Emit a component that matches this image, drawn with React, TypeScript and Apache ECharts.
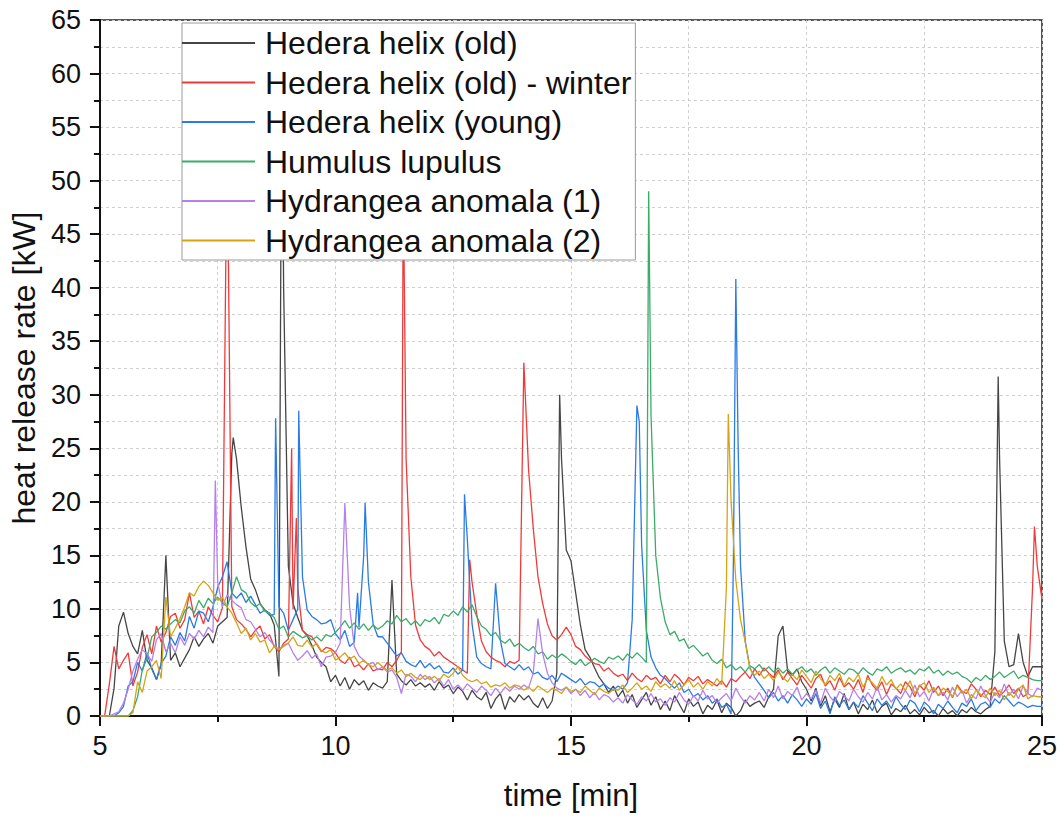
import React, { useEffect, useRef } from "react";
import * as echarts from "echarts";

// time grid: 5.0 .. 25.0 min, step 0.1 min (one row = one minute)
const T_START = 5;
const T_STEP = 0.1;

const seriesNames = [
  "Hedera helix (old)",
  "Hedera helix (old) - winter",
  "Hedera helix (young)",
  "Humulus lupulus",
  "Hydrangea anomala (1)",
  "Hydrangea anomala (2)",
];
const seriesColors = ["#454545", "#f03a3a", "#2b7be4", "#3bab6a", "#b680ea", "#d4a416"];

const xTicks = [5, 10, 15, 20, 25];
const yTicks = [0, 5, 10, 15, 20, 25, 30, 35, 40, 45, 50, 55, 60, 65];

// Hedera helix (old)
const hhOld = [
  0, 0, 0, 2.6, 8.4, 9.7, 7.7, 6.5, 5.8, 8.0,
  5.2, 4.5, 3.4, 4.8, 15, 5.2, 5.9, 4.6, 5.4, 6.2,
  7.4, 6.5, 7.2, 7.7, 6.8, 8.4, 8.8, 9.2, 24.5, 24,
  19.5, 15.8, 12.8, 11.8, 10.5, 9.9, 9.6, 8.5, 3.7, 40,
  14, 10.5, 9.2, 8, 7.5, 6.6, 5.5, 5, 4.6, 3.2,
  3.8, 2.8, 3.6, 2.5, 3.4, 2.9, 3.3, 2.4, 3.1, 2.8,
  2.6, 3.2, 12.7, 3.9, 3.3, 2.9, 3.4, 2.8, 3.1, 2.7,
  3, 2.4, 3.2, 2.6, 2.9, 2.1, 2.7, 2.3, 1.5, 2.4,
  1.8, 1.5, 2.2, 0.7, 1.6, 2.1, 0.6, 1.8, 1.3, 2,
  1.5, 1.9, 1.2, 0.8, 1.7, 0.7, 1.4, 4, 24, 15.5,
  14.5, 11.5, 8.5, 6.2, 5.5, 4.5, 3.6, 3, 2.2, 2.8,
  1.8, 2.4, 1.2, 2, 0.8, 1.5, 2.2, 1, 1.8, 0.6,
  1.4, 0.5, 1.9, 1.1, 0.3, 1.6, 0.9, 1.3, 0.2, 1,
  0.6, 1.5, 0.3, 1.2, 0.8, 0, 0.5, 1.5, 0.9, 1.2,
  1.4, 0.8, 1.8, 2.5, 7.5, 8.4, 4.2, 3.8, 4.4, 3.2,
  2.5, 1.4, 2.6, 0.9, 1.9, 0.4, 1.6, 0.8, 2.1, 0.6,
  1.3, 0.2, 1.1, 0.6, 1.5, 0.3, 0.9, 1.2, 0.1, 0.7,
  0.4, 1, 0.2, 0.6, 0.1, 0.8, 0.3, 0.5, 0, 0.7,
  0.2, 0.5, 0, 0.6, 0.3, 0.8, 0.4, 0.2, 0.6, 0.9,
  6, 24, 7, 4.6, 4.8, 7.7, 5, 3.7, 4.6, 4.6,
  4.6,
];
const hhOldPeaks = [[7.83, 26], [8.86, 62], [14.76, 30], [24.07, 31.7]];

// Hedera helix (old) - winter
const hhWinter = [
  0, 0, 3, 6.5, 4.4, 5.2, 5.9, 2.8, 4.1, 6.4,
  7.6, 5.8, 8.4, 6.9, 7.8, 9.3, 9.6, 8.2, 9, 11.5,
  9.2, 9.8, 8.6, 10.2, 9.4, 8.8, 10.1, 55, 10.2, 9,
  8.6, 8.1, 7.4, 8, 8.4, 7.2, 7.6, 6.5, 6, 6.8,
  7.2, 10, 12, 8, 7.6, 7.4, 6.7, 6, 6.4, 6.3,
  5.9, 5.2, 4.9, 5.5, 4.6, 4.8, 4.3, 4.9, 4.2, 4.4,
  4.3, 5, 4.6, 5.2, 6, 24, 13, 8.5, 7.1, 6.5,
  6.2, 5.6, 6, 5.5, 5.2, 4.9, 4.6, 4.3, 4, 12.5,
  9.5, 7, 6, 5.5, 5.2, 5, 4.6, 5.1, 4.9, 5.2,
  33, 23, 17.5, 13, 10.5, 8.6, 7.5, 7.1, 7.6, 8.3,
  7.6, 6.5, 6.2, 5.6, 5.2, 4.9, 4.8, 4.2, 4.5, 4,
  3.7, 3.9, 3.3, 4, 3.5, 3.2, 3.8, 3.4, 3.6, 3,
  3.8, 3.2, 3.9, 3.5, 2.9, 3.6, 3.3, 3.7, 3, 3.4,
  3.1, 2.8, 3.3, 2.7, 3.5, 3.2, 3.7, 4.1, 3.5, 4.4,
  3.8, 4.5, 4, 3.6, 4.3, 3.4, 4.1, 3.5, 2.9, 3.8,
  3.2, 2.6, 3.5, 3.9, 2.8, 3.3, 2.4, 3.6, 2.7, 3.1,
  2.5, 3.4, 2.2, 3.8, 2.9, 2.4, 3.2, 2, 3, 2.6,
  2.1, 3.2, 2.7, 1.8, 2.9, 2.4, 3.3, 2.2, 2.8, 1.9,
  2.6, 1.7, 2.9, 2.3, 2.1, 3, 2.5, 1.8, 2.4, 2,
  2.7, 1.9, 2.3, 2.9, 2.1, 2.6, 1.8, 2.1, 12, 14,
  10.9,
];
const hhWinterPeaks = [[9.07, 25], [9.17, 18.5], [11.44, 50], [12.85, 14.6], [24.84, 17.7]];

// Hedera helix (young)
const hhYoung = [
  0, 0, 0, 0, 0.3, 0.9, 2.8, 3.2, 5, 4.2,
  5.9, 4.4, 3.4, 4.9, 5.6, 7.4, 6.6, 7.8, 7, 9.3,
  8.2, 9.8, 9.6, 8.8, 10.2, 12, 13, 14.4, 11.5, 11,
  11.5, 10.6, 11.2, 10.4, 9.6, 9.9, 9.4, 9.5, 10.2, 9.6,
  8, 9, 10, 13, 9.9, 9.3, 9, 8.6, 8.7, 9,
  7.7, 7.1, 8, 6.5, 6.9, 8.3, 15, 12.5, 8.6, 7.4,
  7.4, 6.8, 6.2, 5.6, 5.9, 5.1, 4.8, 4.6, 5.2, 4.5,
  4.9, 4.4, 4.7, 4.1, 4, 4.5, 3.9, 4.3, 16.5, 8.6,
  5.5, 4.9, 4.6, 4.4, 12.4, 7.1, 4.9, 4.6, 4.3, 4.8,
  4.3, 4.6, 3.9, 4.1, 3.6, 3.4, 3.8, 3.2, 4, 3.7,
  3.4, 3.1, 3.5, 2.9, 3.2, 3.1, 2.7, 3, 2.6, 2.4,
  2.8, 2.5, 3.1, 9, 29, 16, 8, 5.5, 4.5, 3.8,
  3.5, 3, 2.6, 3.1, 2.2, 2.5, 1.8, 2.1, 1.5, 1.9,
  1.2, 1.6, 0.8, 1.1, 0.2, 40.8, 14, 7, 4.5, 3.6,
  3, 2.4, 1.7, 2.2, 1.4, 1.9, 1.2, 2, 1.5, 0.9,
  1.6, 1.1, 2.1, 0.7, 1.4, 0.2, 1.8, 1, 1.5, 0.6,
  1.3, 0.8, 1.9, 1.2, 0.5, 1.6, 1, 1.4, 0.7, 1.8,
  1.1, 0.6, 1.5, 1.2, 0.4, 1.3, 0.9, 0.2, 1.1, 0.7,
  1.4, 0.8, 0.3, 1.2, 0.9, 1.6, 0.5, 1.1, 1.3, 0.8,
  1.6, 1.2, 1.9, 1.4, 0.9, 1.3, 1.1, 0.8, 1, 0.9,
  0.9,
];
const hhYoungPeaks = [
  [8.73, 27.8], [9.22, 28.5], [10.47, 11.5], [10.63, 19.9],
  [12.74, 20.7], [16.45, 27.5], [18.45, 15], [18.55, 25],
];

// Humulus lupulus
const humulus = [
  0, 0, 0, 0, 0, 0, 0, 0.5, 1.8, 4.3,
  5.4, 7.4, 7.8, 8.4, 8.1, 8.6, 9, 8.7, 9.8, 10.2,
  9.6, 10.8, 10.1, 11, 10.5, 11.1, 10.6, 10.2, 11.5, 13,
  11.8, 11.5, 10.6, 10.2, 10.5, 9.8, 9.6, 9.2, 8.1, 8.4,
  7.4, 7.9, 7.6, 7.3, 7.5, 7.1, 7.4, 7, 7.6, 7.4,
  7.8, 8.3, 8.9, 8.2, 8.7, 8.1, 8.6, 8, 8.5, 8.1,
  8.4, 8.9, 8.6, 9.4, 8.8, 9.1, 8.5, 8.9, 8.4, 9,
  8.8, 9.2, 8.6, 9.5, 9.3, 9.8, 9.4, 10.2, 9.7, 10.4,
  9.3, 8.4, 8.1, 7.5, 7.8, 7.1, 6.8, 7.2, 6.5, 6.8,
  6.4, 6.1, 6.5, 5.8, 6, 5.3, 5.7, 5.4, 5.8, 5.5,
  5.1, 4.8, 5.3, 4.7, 5, 5.4, 5.1, 4.9, 5.5, 5.3,
  5.6, 5.2, 5.8, 5.4, 5.9, 5.5, 5, 28, 15, 11,
  8.8, 7.6, 7.9, 7, 7.2, 6.3, 6.6, 6.1, 5.6, 5.9,
  5.2, 4.9, 5.3, 4.5, 4.8, 4.3, 4.6, 4.1, 4.7, 4.4,
  4.8, 4.2, 4.6, 4.1, 4.5, 4, 4.4, 3.9, 4.3, 4.6,
  4.1, 4.4, 3.8, 4.3, 4.6, 4, 4.5, 4.2, 3.9, 4.4,
  4.3, 3.9, 4.5, 4.1, 3.8, 4.4, 4.2, 4.6, 4, 4.3,
  4.5, 4.1, 4.3, 3.9, 4.4, 4.2, 4.6, 4, 4.3, 3.8,
  4.2, 3.9, 4.1, 3.7, 3.5, 3.1, 3.6, 3.3, 3.8, 3.4,
  3.7, 4.1, 3.6, 3.9, 4.2, 3.5, 3.8, 3.6, 3.4, 3.3,
  3.3,
];
const humulusPeaks = [[16.65, 49]];

// Hydrangea anomala (1)
const hydrangea1 = [
  0, 0, 0, 0.2, 0.4, 1.2, 2.5, 4.2, 5.3, 6.2,
  5.8, 5.1, 7.1, 7.7, 6, 6.8, 5.9, 7.4, 6.6, 7.7,
  7.2, 8, 7.4, 8.3, 7.8, 12.5, 10.2, 11.3, 10.8, 10.4,
  10.1, 9, 8.8, 8.1, 7.4, 7.8, 7.1, 6.6, 6.2, 6.5,
  6.8, 5.9, 5.2, 5.6, 6.1, 5.4, 5.8, 4.6, 5.5, 5.6,
  5.9, 6.8, 19.9, 10.2, 6.5, 5.6, 5.2, 4.8, 5, 4.3,
  4.6, 4.1, 4.3, 3.6, 2.1, 3.9, 3.7, 3.2, 3.9, 3.4,
  3.7, 3.1, 3.5, 2.8, 3.4, 2.5, 2.9, 2.4, 3, 2.6,
  2.2, 2.8, 2.4, 1.9, 2.6, 2.1, 2.7, 2.3, 2.8, 2.5,
  2.9, 2.6, 4, 9.1, 5.8, 4, 3.1, 2.6, 2.4, 2.7,
  2.1, 2.5, 1.9, 2.4, 1.7, 2.2, 1.5, 2, 1.8, 1.3,
  1.7, 1.2, 2, 1.5, 1.1, 1.8, 1.4, 2.1, 1.3, 1.6,
  1, 1.7, 1.3, 2.2, 1.5, 1.1, 1.9, 1.4, 2.4, 1.6,
  1.9, 1.2, 1.7, 2.1, 1.4, 2.6, 1.8, 1.2, 1.9, 1.5,
  2.2, 1.4, 2.5, 1.7, 2.8, 1.6, 2.3, 1.9, 2.7, 1.5,
  2.1, 1.6, 2.4, 1.2, 2.6, 1.8, 1.3, 2.3, 1.9, 1.4,
  2.5, 1.8, 1.3, 2.2, 1.6, 2.7, 1.5, 2, 1.3, 1.9,
  1.6, 2.4, 1.7, 2.9, 1.8, 2.3, 1.4, 2.6, 1.9, 2.2,
  1.5, 2.7, 1.8, 2.4, 1.2, 2, 1.6, 2.8, 1.9, 1.3,
  2.2, 1.7, 3, 1.9, 2.5, 1.6, 2.8, 2.1, 1.8, 2.6,
  2.4,
];
const hydrangea1Peaks = [[7.45, 22]];

// Hydrangea anomala (2)
const hydrangea2 = [
  0, 0, 0, 0, 0, 0, 0, 0.3, 3.2, 2.2,
  4.2, 4.6, 5.2, 3.5, 11.1, 7.4, 8.2, 9.1, 10.2, 11.5,
  11.2, 12.1, 12.6, 12.2, 11.5, 10.8, 11.1, 10.2, 9.6, 8.7,
  7.7, 8.2, 7.1, 7.7, 6.9, 7.1, 5.9, 6.5, 6.2, 6.6,
  6.8, 7.4, 6.6, 6.5, 7.1, 6.4, 6.8, 6.1, 5.9, 6.2,
  5.2, 5.5, 5.9, 5.3, 5.6, 4.9, 5.2, 4.8, 4.6, 5,
  4.6, 4.3, 4.5, 4, 4.3, 3.7, 4, 3.6, 3.4, 3.8,
  3.4, 3.7, 3.3, 3.9, 3.6, 4, 4.6, 3.8, 3.4, 3.2,
  3.4, 3, 3.2, 2.7, 2.9, 2.8, 3.1, 2.6, 2.9, 2.8,
  2.4, 2.7, 2.3, 2.8, 2.5, 2.2, 2.6, 2.4, 2.1, 2.7,
  2.3, 2.5, 2.2, 2.8, 2.4, 2, 2.6, 2.3, 2.1, 2.5,
  2.4, 2.9, 2.2, 2.6, 3.1, 2.5, 2.8, 2.3, 3.2, 2.7,
  3, 2.6, 3.3, 2.4, 2.9, 3.4, 2.7, 3.1, 2.5, 3.2,
  2.8, 3.5, 2.9, 12, 20, 12.7, 9, 6.9, 4.4, 3.8,
  4.2, 3.5, 3.9, 3.3, 4.1, 3.6, 3.2, 3.9, 3.4, 4.3,
  3.7, 3.1, 4.2, 3.5, 2.9, 3.8, 3.3, 4, 2.8, 3.6,
  3.2, 3.9, 2.7, 3.5, 3.1, 2.6, 3.7, 2.9, 3.4, 2.5,
  3, 2.4, 3.3, 2.1, 2.8, 3.1, 2.2, 2.7, 1.9, 2.6,
  2.3, 1.8, 2.8, 2.1, 2.5, 1.6, 2.4, 2, 1.7, 2.6,
  1.9, 2.4, 1.5, 2.2, 1.7, 2.5, 2.9, 1.6, 1.9, 1.8,
  1.8,
];
const hydrangea2Peaks = [[18.34, 28.2]];

const seriesBase = [hhOld, hhWinter, hhYoung, humulus, hydrangea1, hydrangea2];
const seriesPeaks = [hhOldPeaks, hhWinterPeaks, hhYoungPeaks, humulusPeaks, hydrangea1Peaks, hydrangea2Peaks];

function buildData(base: number[], peaks: number[][]) {
  const pts = base.map((v, i) => [Math.round((T_START + i * T_STEP) * 100) / 100, v]);
  return pts.concat(peaks.map((p) => [p[0], p[1]])).sort((a, b) => a[0] - b[0]);
}

const FONT = "'Liberation Sans', Arial, sans-serif";
const gridLine = { show: true, lineStyle: { color: "#cfcfcf", type: [3, 3] as any, width: 1 } };
const axisColor = "#111111";

export default function App() {
  const ref = useRef<HTMLDivElement>(null);
  useEffect(() => {
    if (!ref.current) return;
    const chart = echarts.init(ref.current, undefined, { renderer: "svg" });
    chart.setOption({
      animation: false,
      backgroundColor: "#ffffff",
      textStyle: { fontFamily: FONT },
      grid: {
        left: 98,
        right: 18,
        top: 20,
        bottom: 103,
        show: true,
        borderColor: "#222222",
        borderWidth: 1.5,
      },
      legend: {
        orient: "vertical",
        left: 182,
        top: 23,
        padding: [3, 4, 2.5, 0],
        icon: "rect",
        itemWidth: 73,
        itemHeight: 2,
        itemGap: 5.5,
        backgroundColor: "#ffffff",
        borderColor: "#9a9a9a",
        borderWidth: 1,
        data: seriesNames,
        textStyle: { fontSize: 32, color: "#111111", lineHeight: 34, fontFamily: FONT, padding: [0, 0, 0, 5] },
      },
      xAxis: {
        type: "value",
        min: xTicks[0],
        max: xTicks[xTicks.length - 1],
        interval: xTicks[1] - xTicks[0],
        name: "time [min]",
        nameLocation: "middle",
        nameGap: 64,
        nameTextStyle: { fontSize: 31, color: axisColor, fontFamily: FONT },
        axisLine: { show: true, onZero: false, lineStyle: { color: axisColor, width: 2 } },
        axisTick: { show: true, inside: false, length: 10, lineStyle: { color: axisColor, width: 2 } },
        minorTick: { show: true, splitNumber: 2, length: 6, lineStyle: { color: axisColor, width: 2 } },
        axisLabel: { fontSize: 27, color: axisColor, margin: 16, fontFamily: FONT },
        splitLine: gridLine,
        minorSplitLine: gridLine,
      },
      yAxis: {
        type: "value",
        min: yTicks[0],
        max: yTicks[yTicks.length - 1],
        interval: yTicks[1] - yTicks[0],
        name: "heat release rate [kW]",
        nameLocation: "middle",
        nameGap: 58,
        nameTextStyle: { fontSize: 32, color: axisColor, fontFamily: FONT },
        axisLine: { show: true, lineStyle: { color: axisColor, width: 2 } },
        axisTick: { show: true, inside: false, length: 10, lineStyle: { color: axisColor, width: 2 } },
        minorTick: { show: true, splitNumber: 2, length: 6, lineStyle: { color: axisColor, width: 2 } },
        axisLabel: { fontSize: 27, color: axisColor, margin: 19, fontFamily: FONT },
        splitLine: gridLine,
        minorSplitLine: gridLine,
      },
      series: seriesNames.map((name, k) => ({
        name,
        type: "line",
        data: buildData(seriesBase[k], seriesPeaks[k]),
        symbol: "none",
        showSymbol: false,
        clip: true,
        color: seriesColors[k],
        lineStyle: { color: seriesColors[k], width: 1.3 },
      })),
    });
    return () => chart.dispose();
  }, []);
  return (
    <div
      ref={ref}
      style={{ position: "absolute", left: 0, top: 0, width: 1060, height: 819, background: "#fff" }}
    />
  );
}
